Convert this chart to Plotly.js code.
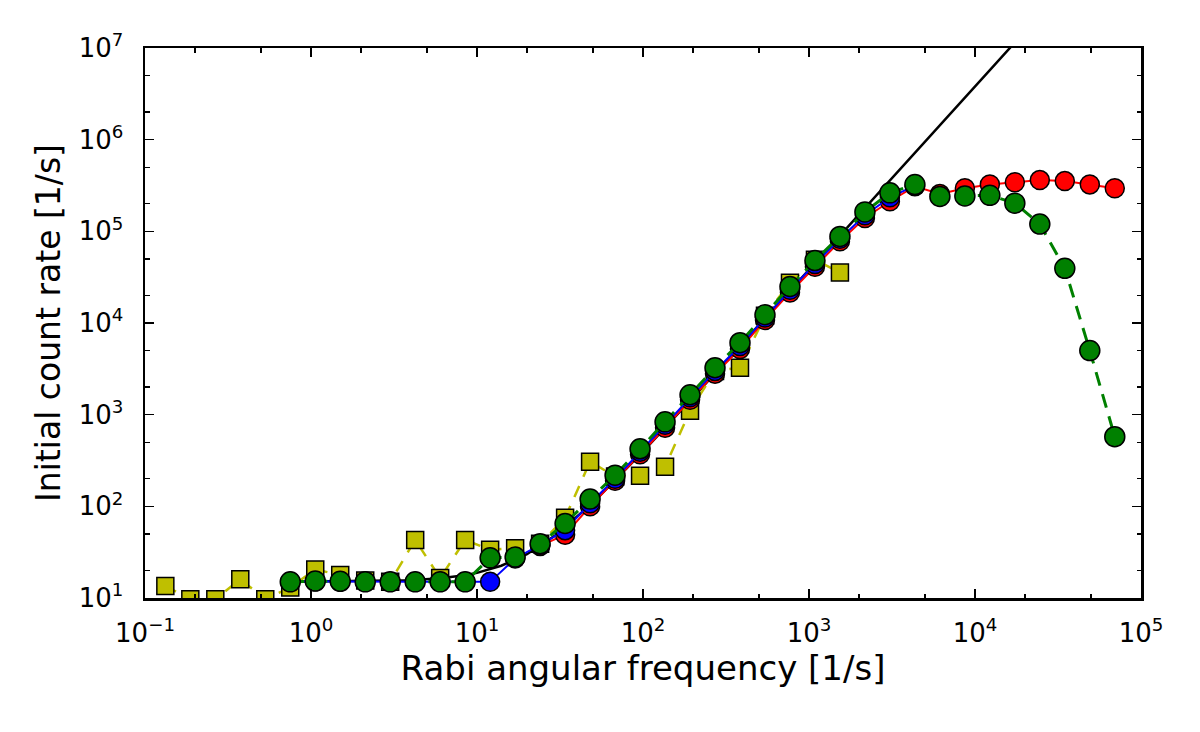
<!DOCTYPE html>
<html>
<head>
<meta charset="utf-8">
<script src="https://cdn.plot.ly/plotly-3.0.1.min.js"></script>
<style>
  html, body { margin: 0; padding: 0; background: #fff; }
  #plot { width: 1200px; height: 732px; }
</style>
</head>
<body>
<div id="plot"></div>
<script>
// Rabi frequencies at which the points were measured [1/s]
const freq = [0.1326, 0.1875, 0.2652, 0.375, 0.5303, 0.75, 1.0607, 1.5, 2.1213, 3,
  4.2426, 6, 8.4853, 12, 16.97, 24, 33.94, 48, 67.88, 96, 135.8, 192, 271.5, 384,
  543.1, 768, 1086, 1536, 2172, 3072, 4345, 6144, 8689, 12288, 17378, 24576,
  34755, 49152, 69510];

// yellow squares (from 0.1326 to 1536)
const yellow_x = freq.slice(0, 28);
const yellow_y = [13.5, 9.7, 9.7, 16, 9.7, 13, 20.5, 17.8, 15.5, 15,
  43, 16.5, 43, 33.5, 35, 39, 75, 307, 212, 215, 270, 1100, 3000, 3250,
  12000, 27500, 49000, 35500];

// red circles (from 24)
const red_x = freq.slice(15);
const red_y = [37, 49, 100, 190, 370, 720, 1450, 2800, 5200, 10800, 21500, 41000,
  78000, 140000, 213000, 310000, 255000, 295000, 325000, 343000, 362000, 353000,
  325000, 295000];

// blue circles (from 0.75 to 4345)
const blue_x = freq.slice(5, 31);
const blue_y = [15, 15.2, 15.1, 15, 15, 15, 15, 15, 15, 27, 38, 55, 108, 200, 395,
  775, 1550, 3000, 5600, 11500, 23000, 44000, 83000, 150000, 235000, 315000];

// green circles (from 0.75)
const green_x = freq.slice(5);
const green_y = [15, 15.3, 15.2, 15, 15, 15, 15, 15, 27.4, 28, 39, 65, 120, 219, 424,
  835, 1650, 3250, 6100, 12300, 25000, 48000, 88000, 163000, 263000, 324000,
  240000, 243000, 247000, 203000, 120000, 39500, 5000, 575];

// black theory curve
const theory_x = [0.75, 2, 4, 6, 8, 10, 14, 20, 30, 50, 100, 300, 1000, 3000, 20000];
const theory_y = [15, 15.2, 15.6, 16.4, 17.5, 18.8, 22.5, 30, 49, 110, 395, 3430,
  38000, 342000, 15200000];

// decade tick labels
const x_tickvals = [0.1, 1, 10, 100, 1000, 10000, 100000];
const x_ticktext = ['10<sup>−1</sup>', '10<sup>0</sup>', '10<sup>1</sup>', '10<sup>2</sup>',
  '10<sup>3</sup>', '10<sup>4</sup>', '10<sup>5</sup>'];
const y_tickvals = [10, 100, 1000, 10000, 100000, 1000000, 10000000];
const y_ticktext = ['10<sup>1</sup>', '10<sup>2</sup>', '10<sup>3</sup>', '10<sup>4</sup>',
  '10<sup>5</sup>', '10<sup>6</sup>', '10<sup>7</sup>'];

const font = 'DejaVu Sans, sans-serif';

function markers(symbol, color, size) {
  return { symbol: symbol, size: size, color: color, line: { color: 'black', width: 1.5 } };
}

let data = [
  { x: theory_x, y: theory_y, type: 'scatter', mode: 'lines',
    line: { color: 'black', width: 2.5 } },
  { x: yellow_x, y: yellow_y, type: 'scatter', mode: 'lines+markers',
    line: { color: '#bfbf00', width: 2.5, dash: '12px,10px' },
    marker: markers('square', '#bfbf00', 17) },
  { x: red_x, y: red_y, type: 'scatter', mode: 'lines+markers',
    line: { color: '#ff0000', width: 2 },
    marker: markers('circle', '#ff0000', 19) },
  { x: blue_x, y: blue_y, type: 'scatter', mode: 'lines+markers',
    line: { color: '#0000ff', width: 2 },
    marker: markers('circle', '#0000ff', 19) },
  { x: green_x, y: green_y, type: 'scatter', mode: 'lines+markers',
    line: { color: '#008000', width: 3, dash: '14px,9px' },
    marker: markers('circle', '#008000', 20) }
];

function log_axis(range, vals, text, title, title_size, standoff, label_gap) {
  return {
    type: 'log', range: range, tickmode: 'array', tickvals: vals, ticktext: text,
    showgrid: false, zeroline: false,
    showline: true, linecolor: 'black', linewidth: 2.5, mirror: 'allticks',
    ticks: 'inside', ticklen: 9, tickwidth: 1.5, tickcolor: 'black',
    ticklabelstandoff: label_gap,
    minor: { ticks: 'inside', ticklen: 4.5, tickwidth: 1.2, tickcolor: 'black', showgrid: false },
    tickfont: { family: font, size: 26, color: 'black' },
    title: { text: title, font: { family: font, size: title_size, color: 'black' }, standoff: standoff },
    automargin: false
  };
}

let layout = {
  width: 1200, height: 732,
  margin: { l: 145, r: 59, t: 48, b: 134 },
  paper_bgcolor: 'white', plot_bgcolor: 'white',
  showlegend: false,
  xaxis: log_axis([-1, 5], x_tickvals, x_ticktext, 'Rabi angular frequency [1/s]', 34, 1, 10),
  yaxis: log_axis([1, 7], y_tickvals, y_ticktext, 'Initial count rate [1/s]', 33, 8, 14)
};

Plotly.newPlot('plot', data, layout, { staticPlot: true });
</script>
</body>
</html>
